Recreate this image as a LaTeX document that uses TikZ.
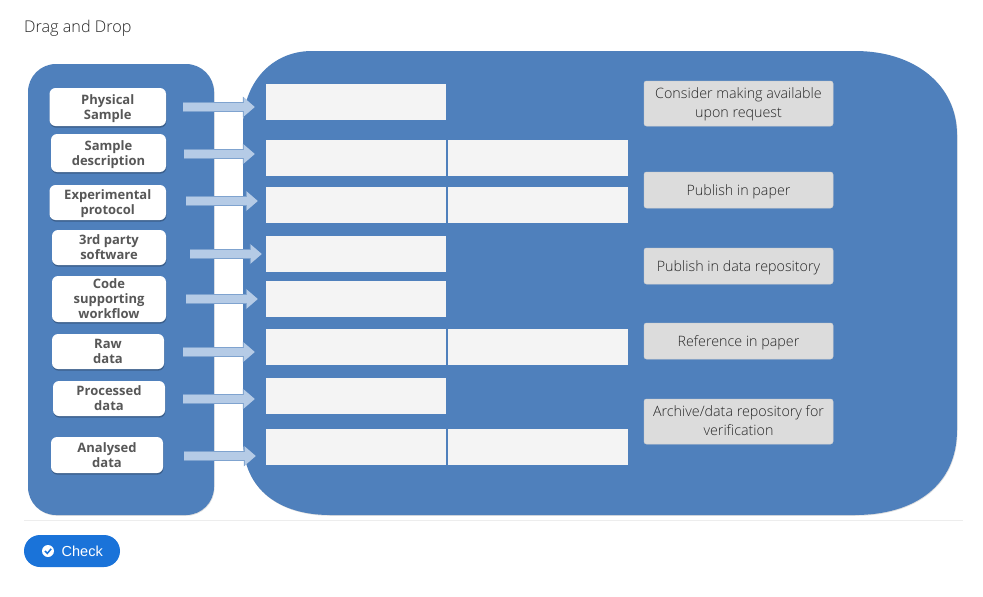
\documentclass[tikz,border=0pt]{standalone}
\usepackage{fontspec}
\setmainfont{Open Sans}
\newfontfamily\lightfont{Open Sans Light}
\newfontfamily\checkfont{Liberation Sans}
\usetikzlibrary{arrows.meta,shadows,calc}
\definecolor{panel}{HTML}{4F80BC}
\definecolor{dropc}{HTML}{F4F4F4}
\definecolor{itemc}{HTML}{DCDCDC}
\definecolor{arrowc}{HTML}{B5CBE6}
\definecolor{arrowe}{HTML}{7FA3CF}
\definecolor{checkc}{HTML}{1A73D9}
\definecolor{labelc}{HTML}{3A3A3A}
\tikzset{
  x=1pt,y=-1pt,
  panelshape/.style={fill=panel,draw=none,drop shadow={shadow xshift=0.6pt,shadow yshift=-0.8pt,fill=black,opacity=0.12}},
  source/.style={fill=white,rounded corners=6pt,inner sep=0pt,align=center,font=\bfseries\fontsize{13}{15}\selectfont,text=labelc!85!white,
     drop shadow={shadow xshift=0.4pt,shadow yshift=-1.6pt,fill=black!10!panel!80!black,opacity=0.9}},
  dropbox/.style={fill=dropc,inner sep=0pt,minimum width=180pt,minimum height=36pt},
  item/.style={fill=itemc,draw=black!18,line width=0.5pt,rounded corners=2.5pt,inner sep=0pt,minimum width=189pt,align=center,
     font=\lightfont\fontsize{14.3}{19}\selectfont,text=black!85},
  blockarrow/.style={draw=arrowc,line width=8.5pt,-{Triangle[length=11pt,width=18pt,fill=arrowc]},
     preaction={draw=arrowe,line width=10pt,-{Triangle[length=12pt,width=20pt,fill=arrowe]}}},
}
\newcommand{\lowered}[2]{\raisebox{-#1pt}[\height][\depth]{\begin{tabular}{@{}c@{}}#2\end{tabular}}}
\newcommand{\srcnode}[6]{\node[source,minimum width=#4pt,minimum height=#5pt] (#1) at (#2,#3) {\lowered{1.8}{#6}};}
\begin{document}
\begin{tikzpicture}
\useasboundingbox (0,0) rectangle (983,597);
\fill[white] (0,0) rectangle (983,597);
\node[anchor=west,inner sep=0pt,font=\lightfont\fontsize{16.2}{18}\selectfont,text=black!85] (title) at (24,28) {Drag and Drop};

% panels
\path[panelshape,rounded corners=28pt] (28,64) rectangle (214,515);
\path[panelshape] (312,51) -- (855,51) .. controls (915,51) and (957,85) .. (957,135) -- (957,430)
  .. controls (957,485) and (915,515) .. (855,515) -- (330,515)
  .. controls (280,515) and (243,490) .. (243,440) -- (243,125)
  .. controls (243,85) and (270,51) .. (312,51) -- cycle;

% source nodes
\srcnode{s1}{107.75}{107}{116.5}{38}{Physical\\Sample}
\srcnode{s2}{108.5}{153}{115}{38}{Sample\\description}
\srcnode{s3}{107.75}{202.5}{116.5}{35}{Experimental\\protocol}
\srcnode{s4}{109}{247.5}{114}{35}{3rd party\\software}
\srcnode{s5}{109}{299}{114}{46}{Code\\supporting\\workflow}
\srcnode{s6}{108}{351.5}{112}{35}{Raw\\data}
\srcnode{s7}{109}{398.5}{112}{35}{Processed\\data}
\srcnode{s8}{107}{455}{112}{36}{Analysed\\data}

% drop boxes
\node[dropbox] (d1)  at (356,102) {};
\node[dropbox] (d2)  at (356,158) {};
\node[dropbox] (d2b) at (538,158) {};
\node[dropbox] (d3)  at (356,205) {};
\node[dropbox] (d3b) at (538,205) {};
\node[dropbox] (d4)  at (356,254) {};
\node[dropbox] (d5)  at (356,299) {};
\node[dropbox] (d6)  at (356,347) {};
\node[dropbox] (d6b) at (538,347) {};
\node[dropbox] (d7)  at (356,396) {};
\node[dropbox] (d8)  at (356,447) {};
\node[dropbox] (d8b) at (538,447) {};

% arrows
\coordinate (a1) at ($(s1.east)+(17,0)$);
\draw[blockarrow,shorten >=11pt] (a1) -- (a1 -| d1.west);
\coordinate (a2) at ($(s2.east)+(18,1)$);
\draw[blockarrow,shorten >=11pt] (a2) -- (a2 -| d2.west);
\coordinate (a3) at ($(s3.east)+(20,-1.5)$);
\draw[blockarrow,shorten >=8pt] (a3) -- (a3 -| d3.west);
\coordinate (a4) at ($(s4.east)+(24,6.5)$);
\draw[blockarrow,shorten >=4pt] (a4) -- (a4 -| d4.west);
\coordinate (a5) at ($(s5.east)+(20,0)$);
\draw[blockarrow,shorten >=8pt] (a5) -- (a5 -| d5.west);
\coordinate (a6) at ($(s6.east)+(19,0.5)$);
\draw[blockarrow,shorten >=11pt] (a6) -- (a6 -| d6.west);
\coordinate (a7) at ($(s7.east)+(18,0.5)$);
\draw[blockarrow,shorten >=11pt] (a7) -- (a7 -| d7.west);
\coordinate (a8) at ($(s8.east)+(21,1)$);
\draw[blockarrow,shorten >=10pt] (a8) -- (a8 -| d8.west);

% draggable items
\node[item,minimum height=45pt] (i1) at (738.5,103.5) {\lowered{1}{Consider making available\\upon request}};
\node[item,minimum height=36pt] (i2) at (738.5,190) {\lowered{1.5}{Publish in paper}};
\node[item,minimum height=36pt] (i3) at (738.5,266) {\lowered{1.5}{Publish in data repository}};
\node[item,minimum height=36pt] (i4) at (738.5,341) {\lowered{1.5}{Reference in paper}};
\node[item,minimum height=45pt] (i5) at (738.5,421.5) {\lowered{1}{Archive/data repository for\\verification}};

% footer
\draw[black!7,line width=1pt] (24,520.5) -- (963,520.5);
\path[fill=checkc,rounded corners=16pt] (24,535) rectangle (120,567);
\fill[white] (48,551) circle (6);
\draw[checkc,line width=1.5pt] (45,551) -- (47.3,553.4) -- (51.2,548.8);
\node[anchor=west,inner sep=0pt,text=white,font=\checkfont\fontsize{14.5}{16}\selectfont] (check) at (61.5,551) {Check};
\end{tikzpicture}
\end{document}
